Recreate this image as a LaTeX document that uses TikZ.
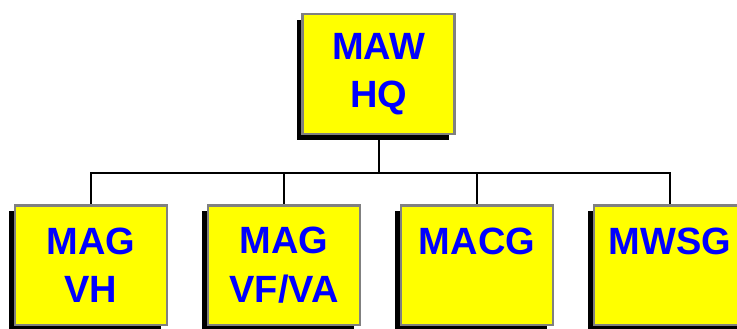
\documentclass[tikz,border=0pt]{standalone}
\usepackage{fontspec}
\setmainfont{Liberation Sans}
\usetikzlibrary{shadows}
\definecolor{boxyellow}{RGB}{255,255,0}
\definecolor{boxblue}{RGB}{0,0,255}
\definecolor{boxgray}{RGB}{128,128,128}
\tikzstyle{unit} = [draw=boxgray, line width=2.5pt, fill=boxyellow, rectangle,
    minimum width=152pt, minimum height=119.5pt, align=center, inner sep=0pt,
    text=boxblue, font=\fontsize{38}{48.5}\selectfont\bfseries,
    drop shadow={shadow xshift=-6pt, shadow yshift=-6pt, fill=black, opacity=1, draw=none}]
\tikzstyle{link} = [draw, line width=2pt]

\begin{document}
\begin{tikzpicture}[x=1pt, y=1pt, node distance=193pt]
    \useasboundingbox (0,0) rectangle (737,-329);
    \node [unit] (hq) at (378.5,-74) {MAW\\HQ};
    \node [unit] (vh) at (91,-265) {MAG\\VH};
    \node [unit, right of=vh] (vfva) {MAG\\VF/VA};
    \node [unit, right of=vfva] (macg) {MACG\\~};
    \node [unit, right of=macg] (mwsg) {MWSG\\~};
    \coordinate (bus) at (378.5,-173);
    \draw [link] (hq.south) -- (bus);
    \draw [link] (bus) -| (vh.north);
    \draw [link] (bus) -| (vfva.north);
    \draw [link] (bus) -| (macg.north);
    \draw [link] (bus) -| (mwsg.north);
\end{tikzpicture}
\end{document}
